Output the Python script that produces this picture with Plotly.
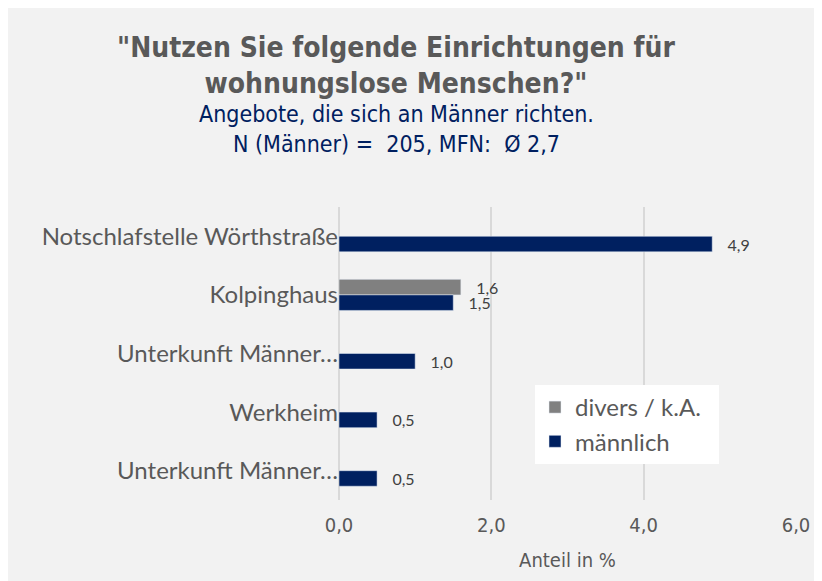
import plotly.graph_objects as go

categories = ["Notschlafstelle Wörthstraße", "Kolpinghaus", "Unterkunft Männer…", "Werkheim", "Unterkunft Männer…"]
maennlich = [4.9, 1.5, 1.0, 0.5, 0.5]
divers = [None, 1.6, None, None, None]
x_ticks = [0, 2, 4, 6]

# figure sits inside the page's 8px body margin
W, H = 814, 573
ML, MR, MT, MB = 331, 26, 199, 81
pw, ph = W - ML - MR, H - MT - MB

def fmt(v):
    return "" if v is None else "\u00a0\u00a0\u00a0" + f"{v:.1f}".replace(".", ",")

ypos = list(range(len(categories)))
cond = "Liberation Sans Narrow, DejaVu Sans Condensed, Roboto, sans-serif"
lab = "Lato, Noto Sans, sans-serif"

fig = go.Figure()
fig.add_trace(go.Bar(
    y=ypos, x=divers, orientation="h", name="divers / k.A.\u00a0\u00a0",
    marker=dict(color="#808080"),
    text=[fmt(v) for v in divers], textposition="outside", constraintext="none",
    textfont=dict(size=16, color="#404040", family=lab), cliponaxis=False,
))
fig.add_trace(go.Bar(
    y=ypos, x=maennlich, orientation="h", name="männlich",
    marker=dict(color="#002060"),
    text=[fmt(v) for v in maennlich], textposition="outside", constraintext="none",
    textfont=dict(size=16, color="#404040", family=lab), cliponaxis=False,
))

def px_x(p):
    return (p - ML) / pw
def px_y(p):
    return (H - MB - p) / ph

fig.add_annotation(xref="paper", yref="paper", x=px_x(388), y=px_y(58),
                   text='<b>"Nutzen Sie folgende Einrichtungen für<br>wohnungslose Menschen?"</b>',
                   showarrow=False, xanchor="center", yanchor="middle",
                   font=dict(family=cond, size=28, color="#595959"))
fig.add_annotation(xref="paper", yref="paper", x=px_x(388), y=px_y(121),
                   text="Angebote, die sich an Männer richten.<br>N (Männer) =  205, MFN:  Ø 2,7",
                   showarrow=False, xanchor="center", yanchor="middle",
                   font=dict(family=cond, size=23, color="#002060"))

fig.update_layout(
    width=W, height=H,
    margin=dict(l=ML, r=MR, t=MT, b=MB, pad=0),
    paper_bgcolor="#f2f2f2", plot_bgcolor="#f2f2f2",
    barmode="group", bargap=0.47, bargroupgap=0,
    separators=",.",
    showlegend=True,
    legend=dict(x=px_x(527), y=px_y(377), xanchor="left", yanchor="top",
                bgcolor="white", traceorder="normal", tracegroupgap=0,
                font=dict(family=lab, size=24, color="#595959")),
    xaxis=dict(range=[0, 6], tickvals=x_ticks, tickformat=".1f",
               showgrid=True, gridcolor="#d9d9d9", gridwidth=2,
               zeroline=True, zerolinecolor="#d9d9d9", zerolinewidth=2, showline=False,
               ticklabelstandoff=11,
               tickfont=dict(family=cond, size=20, color="#595959"),
               title=dict(text="Anteil in %", standoff=16,
                          font=dict(family=cond, size=20, color="#595959"))),
    yaxis=dict(tickmode="array", tickvals=ypos, ticktext=categories,
               range=[len(categories) - 0.5, -0.5], showgrid=False, zeroline=False,
               tickfont=dict(family=lab, size=24, color="#595959")),
)

fig.write_html("out.html", config={"displayModeBar": False})
